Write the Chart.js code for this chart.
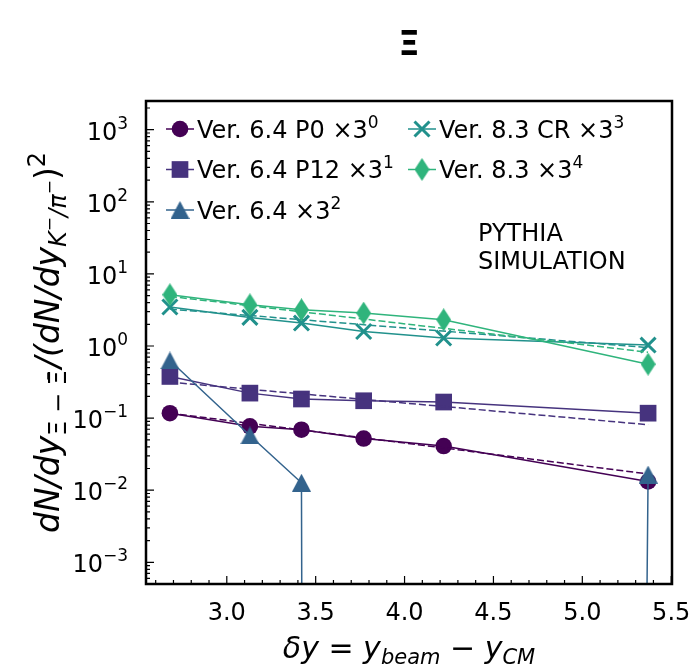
<!DOCTYPE html>
<html><head><meta charset="utf-8">
<script src="https://cdn.jsdelivr.net/npm/chart.js@4/dist/chart.umd.min.js"></script>
<style>html,body{margin:0;padding:0;background:#fff}</style>
</head><body>
<canvas id="c" width="692" height="671"></canvas>
<script>
// ---- data ----
const xValues   = [2.68, 3.13, 3.42, 3.77, 4.22, 5.37];
const p0Values  = [0.117, 0.077, 0.069, 0.052, 0.041, 0.0132];
const p12Values = [0.378, 0.222, 0.184, 0.174, 0.167, 0.117];
const v64Values = [0.63, 0.0575, 0.0127, 0, 0, 0.0165];
const crValues  = [3.47, 2.49, 2.08, 1.59, 1.29, 1.03];
const v83Values = [5.14, 3.73, 3.18, 2.86, 2.31, 0.56];
const fitX      = [2.68, 5.37];
const p0Fit     = [0.117, 0.0168];
const p12Fit    = [0.315, 0.081];
const crFit     = [3.25, 0.95];
const v83Fit    = [4.87, 0.82];
const xTicks    = [3.0, 3.5, 4.0, 4.5, 5.0, 5.5];
const yTickExps = [-3, -2, -1, 0, 1, 2, 3];
const legendNames = ['Ver. 6.4 P0 \u00d73', 'Ver. 6.4 P12 \u00d73', 'Ver. 6.4 \u00d73', 'Ver. 8.3 CR \u00d73', 'Ver. 8.3 \u00d73'];
const legendPowers = ['0', '1', '2', '3', '4'];
const colors = ['#440154', '#46337e', '#33638d', '#21918c', '#2fb47c'];

// ---- marker images ----
function mk(w, h, col, fn) {
  const c = document.createElement('canvas'); c.width = w; c.height = h;
  const g = c.getContext('2d'); g.fillStyle = col; g.beginPath(); fn(g, w, h); g.closePath(); g.fill(); return c;
}
const triImg = mk(19, 18, colors[2], (g, w, h) => { g.moveTo(w / 2, 0); g.lineTo(w, h); g.lineTo(0, h); });
const diaImg = mk(15, 23, colors[4], (g, w, h) => { g.moveTo(w / 2, 0); g.lineTo(w, h / 2); g.lineTo(w / 2, h); g.lineTo(0, h / 2); });

const clipPos = v => (v > 0 ? v : 1e-300); // like matplotlib's nonpositive clip on log axes
const pts = (xs, ys) => xs.map((x, i) => ({ x: x, y: clipPos(ys[i]) }));

const styles = [
  { pointStyle: 'circle', pointRadius: 8.3, pointBorderWidth: 0 },
  { pointStyle: 'rect', pointRadius: 11.8, pointBorderWidth: 0 },
  { pointStyle: triImg, pointRadius: 9, pointBorderWidth: 0 },
  { pointStyle: 'crossRot', pointRadius: 10.6, pointBorderWidth: 3 },
  { pointStyle: diaImg, pointRadius: 11, pointBorderWidth: 0 }
];
const seriesData = [p0Values, p12Values, v64Values, crValues, v83Values];
const fits = [p0Fit, p12Fit, null, crFit, v83Fit];

const datasets = [];
let ord = 100;
seriesData.forEach((vals, i) => {
  datasets.push(Object.assign({
    label: legendNames[i] + legendPowers[i],
    data: pts(xValues, vals),
    borderColor: colors[i], backgroundColor: colors[i],
    pointBackgroundColor: colors[i], pointBorderColor: colors[i],
    borderWidth: 1.5, tension: 0, fill: false, order: ord--
  }, styles[i]));
  if (fits[i]) {
    datasets.push({
      label: 'fit' + i, data: pts(fitX, fits[i]),
      borderColor: colors[i], borderWidth: 1.5, borderDash: [7, 3],
      pointRadius: 0, fill: false, tension: 0, order: ord--
    });
  }
});

// ---- rich text helper ----
const FAM = '"DejaVu Sans", sans-serif';
function font(sz, it, bold) { return (it ? 'italic ' : '') + (bold ? 'bold ' : '') + sz + 'px ' + FAM; }
function richWidth(ctx, parts) {
  let w = 0; parts.forEach(p => { ctx.font = font(p.s, p.i); w += ctx.measureText(p.t).width + (p.g || 0); }); return w;
}
function drawRich(ctx, parts, x, y, align) {
  const w = richWidth(ctx, parts);
  let cx = align === 'center' ? x - w / 2 : align === 'right' ? x - w : x;
  ctx.textAlign = 'left'; ctx.textBaseline = 'alphabetic';
  parts.forEach(p => {
    ctx.font = font(p.s, p.i);
    ctx.fillText(p.t, cx, y - (p.dy || 0));
    cx += ctx.measureText(p.t).width + (p.g || 0);
  });
}

const deco = {
  id: 'deco',
  afterDraw(chart) {
    const ctx = chart.ctx, a = chart.chartArea, xs = chart.scales.x, ys = chart.scales.y;
    ctx.save();
    ctx.fillStyle = '#000'; ctx.strokeStyle = '#000';
    // ticks (inward)
    ctx.lineWidth = 1.2;
    ctx.beginPath();
    for (let k = Math.floor(xs.min * 10); k <= Math.ceil(xs.max * 10); k++) {
      const v = k / 10; if (v < xs.min || v > xs.max) continue;
      const major = (k % 5 === 0);
      const px = xs.getPixelForValue(v);
      ctx.moveTo(px, a.bottom); ctx.lineTo(px, a.bottom - (major ? 8 : 4));
    }
    for (let e = -4; e <= 3; e++) {
      for (let m = 1; m <= 9; m++) {
        const v = m * Math.pow(10, e); if (v < ys.min || v > ys.max) continue;
        const py = ys.getPixelForValue(v);
        ctx.moveTo(a.left, py); ctx.lineTo(a.left + (m === 1 ? 8 : 4), py);
      }
    }
    ctx.stroke();
    // frame
    ctx.lineWidth = 2.5;
    ctx.strokeRect(a.left, a.top, a.right - a.left, a.bottom - a.top);
    // x tick labels
    ctx.font = font(24); ctx.textAlign = 'center'; ctx.textBaseline = 'alphabetic';
    xTicks.forEach(v => ctx.fillText(v.toFixed(1), xs.getPixelForValue(v), 620));
    // y tick labels
    yTickExps.forEach(e => {
      const py = ys.getPixelForValue(Math.pow(10, e));
      drawRich(ctx, [{ t: '10', s: 24 }, { t: e < 0 ? '\u2212' + (-e) : String(e), s: 17, dy: 11 }], 128, py + 10, 'right');
    });
    // title
    ctx.font = font(34, false, true); ctx.textAlign = 'center'; ctx.textBaseline = 'alphabetic';
    ctx.fillText('\u039e', (a.left + a.right) / 2, 55);
    // x title
    drawRich(ctx, [
      { t: '\u03b4y', s: 30, i: true }, { t: ' = ', s: 30 }, { t: 'y', s: 30, i: true },
      { t: 'beam', s: 21, i: true, dy: -6 }, { t: ' \u2212 ', s: 30 }, { t: 'y', s: 30, i: true },
      { t: 'CM', s: 21, i: true, dy: -6 }
    ], (a.left + a.right) / 2, 658, 'center');
    // y title (rotated)
    ctx.save();
    ctx.translate(59, (a.top + a.bottom) / 2);
    ctx.rotate(-Math.PI / 2);
    drawRich(ctx, [
      { t: 'dN/dy', s: 33, i: true },
      { t: '\u039e', s: 24, dy: -7 }, { t: ' \u2212 ', s: 24, dy: -7 }, { t: '\u039e\u0304', s: 24, dy: -7, g: 2 },
      { t: '/(dN/dy', s: 33, i: true },
      { t: 'K', s: 24, i: true, dy: -7 }, { t: '\u2212', s: 17, dy: 4 }, { t: '/\u03c0', s: 24, i: true, dy: -7 }, { t: '\u2212', s: 17, dy: 4 },
      { t: ')', s: 33 }, { t: '2', s: 24, dy: 14 }
    ], 0, 0, 'center');
    ctx.restore();
    // annotation
    ctx.font = font(24); ctx.textAlign = 'left';
    ctx.fillText('PYTHIA', 478, 241);
    ctx.fillText('SIMULATION', 478, 269);
    // legend
    const rowsY = [129, 169.5, 210];
    const slots = [[166, 0], [166, 1], [166, 2], [408, 0], [408, 1]];
    const metaIdx = [];
    chart.data.datasets.forEach((d, i) => { if (!d.label.startsWith('fit')) metaIdx.push(i); });
    metaIdx.forEach((di, n) => {
      const ds = chart.data.datasets[di];
      const x0 = slots[n][0], yy = rowsY[slots[n][1]];
      ctx.strokeStyle = colors[n]; ctx.fillStyle = colors[n]; ctx.lineWidth = 1.5;
      ctx.beginPath(); ctx.moveTo(x0, yy); ctx.lineTo(x0 + 28, yy); ctx.stroke();
      ctx.lineWidth = ds.pointBorderWidth || 1;
      Chart.helpers.drawPoint(ctx, { pointStyle: ds.pointStyle, radius: ds.pointRadius, rotation: 0, borderWidth: ds.pointBorderWidth }, x0 + 14, yy);
      ctx.fillStyle = '#000';
      drawRich(ctx, [{ t: legendNames[n], s: 24 }, { t: legendPowers[n], s: 17, dy: 10 }], x0 + 31, yy + 8.75, 'left');
    });
    ctx.restore();
  }
};

new Chart(document.getElementById('c'), {
  type: 'line',
  data: { datasets: datasets },
  options: {
    responsive: false, animation: false, devicePixelRatio: 1,
    layout: { padding: { left: 146, top: 101, right: 20, bottom: 87 } },
    plugins: { legend: { display: false }, tooltip: { enabled: false }, title: { display: false } },
    scales: {
      x: { type: 'linear', min: 2.5455, max: 5.5045, display: false },
      y: { type: 'logarithmic', min: 5e-4, max: 2.5e3, display: false }
    }
  },
  plugins: [deco]
});
</script>
</body></html>
